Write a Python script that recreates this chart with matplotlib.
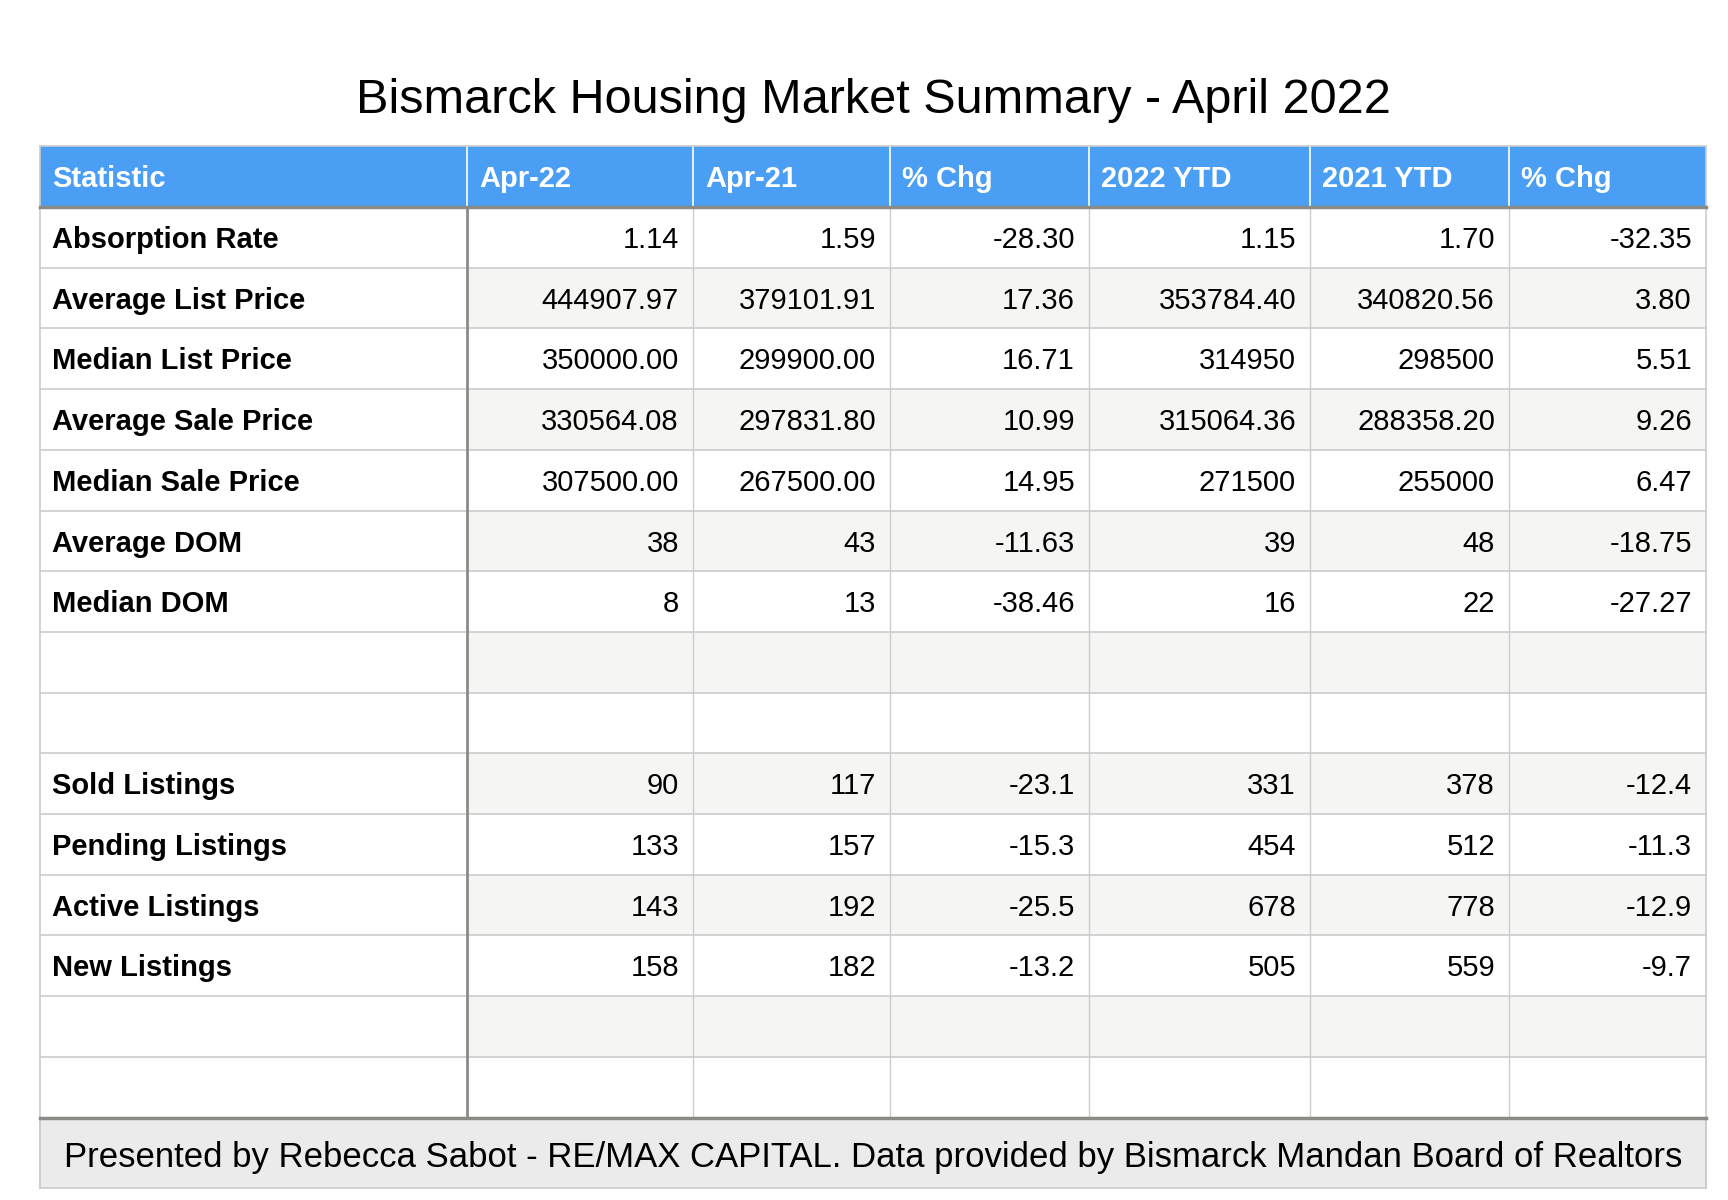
import matplotlib.pyplot as plt
from matplotlib.patches import Rectangle

plt.rcParams['font.family'] = ['Liberation Sans', 'DejaVu Sans']

# data
title = "Bismarck Housing Market Summary - April 2022"
footer = ("Presented by Rebecca Sabot - RE/MAX CAPITAL. "
          "Data provided by Bismarck Mandan Board of Realtors")
headers = ["Statistic", "Apr-22", "Apr-21", "% Chg", "2022 YTD", "2021 YTD", "% Chg"]
statistics = ["Absorption Rate", "Average List Price", "Median List Price",
              "Average Sale Price", "Median Sale Price", "Average DOM", "Median DOM",
              "", "",
              "Sold Listings", "Pending Listings", "Active Listings", "New Listings",
              "", ""]
apr_22 = ["1.14", "444907.97", "350000.00", "330564.08", "307500.00", "38", "8",
          "", "", "90", "133", "143", "158", "", ""]
apr_21 = ["1.59", "379101.91", "299900.00", "297831.80", "267500.00", "43", "13",
          "", "", "117", "157", "192", "182", "", ""]
chg_month = ["-28.30", "17.36", "16.71", "10.99", "14.95", "-11.63", "-38.46",
             "", "", "-23.1", "-15.3", "-25.5", "-13.2", "", ""]
ytd_2022 = ["1.15", "353784.40", "314950", "315064.36", "271500", "39", "16",
            "", "", "331", "454", "678", "505", "", ""]
ytd_2021 = ["1.70", "340820.56", "298500", "288358.20", "255000", "48", "22",
            "", "", "378", "512", "778", "559", "", ""]
chg_ytd = ["-32.35", "3.80", "5.51", "9.26", "6.47", "-18.75", "-27.27",
           "", "", "-12.4", "-11.3", "-12.9", "-9.7", "", ""]

columns = [statistics, apr_22, apr_21, chg_month, ytd_2022, ytd_2021, chg_ytd]

# layout (pixels)
col_edges = [40, 467, 693, 890, 1089, 1310, 1509, 1706]
header_top = 146
header_h = 61
row_h = 60.7
footer_h = 70
pad_l = 12
pad_r = 14
fs = 21

blue = "#4a9ff5"
stripe = "#f5f5f4"
grid = "#cccccc"
thick = "#8c8a87"

fig = plt.figure(figsize=(17.28, 12), dpi=100)
ax = fig.add_axes([0, 0, 1, 1])
ax.set_xlim(0, 1728)
ax.set_ylim(1200, 0)
ax.axis('off')

left, right = col_edges[0], col_edges[-1]
n_rows = len(statistics)
body_top = header_top + header_h
body_bottom = body_top + n_rows * row_h

ax.text((left + right) / 2, 113, title, ha='center', va='baseline', fontsize=35)

# header
ax.add_patch(Rectangle((left, header_top), right - left, header_h, fc=blue, ec='none'))
for j, h in enumerate(headers):
    ax.text(col_edges[j] + pad_l, header_top + 41, h, color='white',
            fontsize=fs, fontweight='bold', va='baseline', ha='left')
for x in col_edges[1:-1]:
    ax.plot([x, x], [header_top, body_top], color='white', lw=1.2)

# body
for i in range(n_rows):
    y0 = body_top + i * row_h
    if i % 2 == 1:
        ax.add_patch(Rectangle((col_edges[1], y0), right - col_edges[1], row_h,
                               fc=stripe, ec='none'))
    for j, col in enumerate(columns):
        val = col[i]
        if not val:
            continue
        if j == 0:
            ax.text(col_edges[0] + pad_l, y0 + 41, val, fontsize=fs,
                    fontweight='bold', va='baseline', ha='left')
        else:
            ax.text(col_edges[j + 1] - pad_r, y0 + 41, val, fontsize=fs,
                    va='baseline', ha='right')
    ax.plot([left, right], [y0 + row_h, y0 + row_h], color=grid, lw=1.2)

for x in col_edges[2:-1]:
    ax.plot([x, x], [body_top, body_bottom], color=grid, lw=1)
ax.plot([left, left], [header_top, body_bottom + footer_h], color=grid, lw=1.2)
ax.plot([right, right], [header_top, body_bottom + footer_h], color=grid, lw=1.2)
ax.plot([left, right], [header_top, header_top], color=grid, lw=1.2)

# footer
ax.add_patch(Rectangle((left, body_bottom), right - left, footer_h,
                       fc="#ebebeb", ec=grid, lw=1.2))
ax.text((left + right) / 2, body_bottom + 50, footer, ha='center',
        va='baseline', fontsize=25)

# thick separators
ax.plot([left, right], [body_top, body_top], color=thick, lw=2.5)
ax.plot([left, right], [body_bottom, body_bottom], color=thick, lw=2.5)
ax.plot([col_edges[1], col_edges[1]], [body_top, body_bottom], color=thick, lw=2)

fig.savefig("out.png", dpi=100, facecolor='white')
